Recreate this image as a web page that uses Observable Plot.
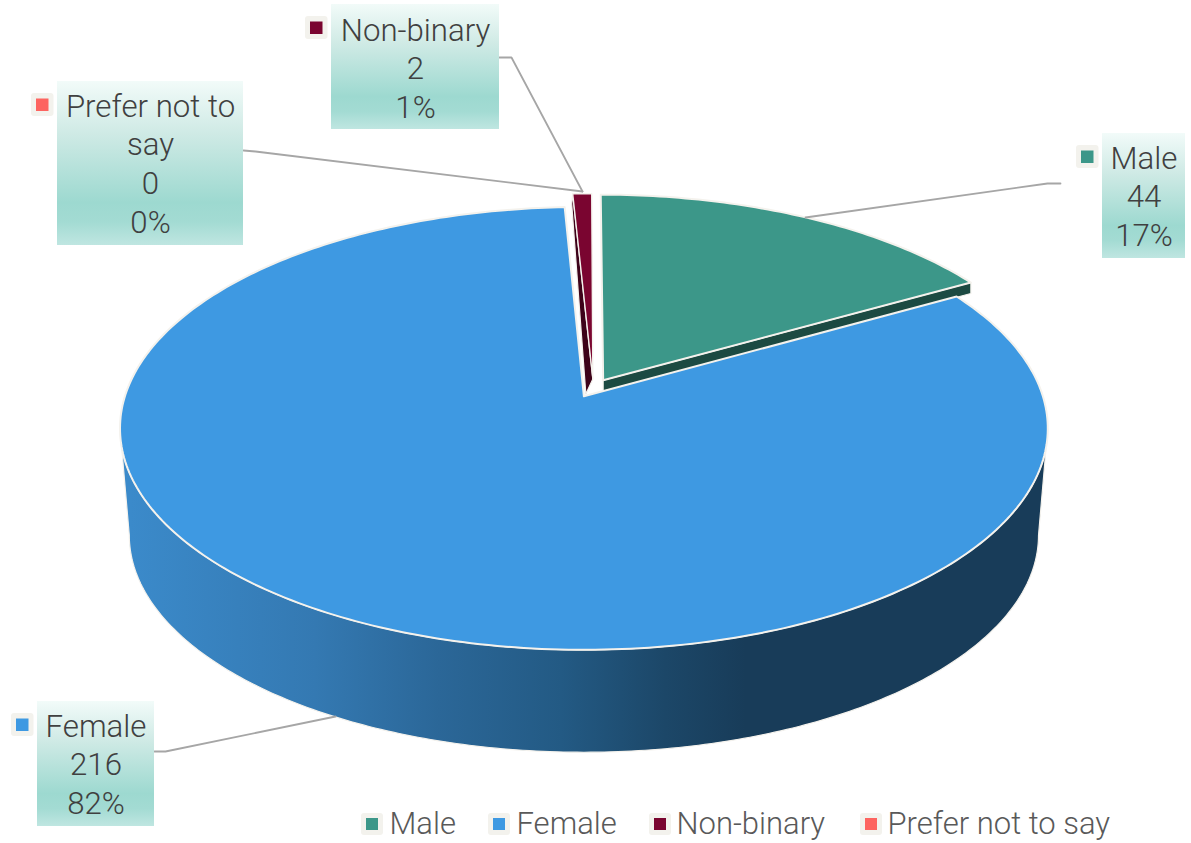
<!DOCTYPE html>
<html>
<head>
<meta charset="utf-8">
<script src="https://cdn.jsdelivr.net/npm/d3@7"></script>
<script src="https://cdn.jsdelivr.net/npm/@observablehq/plot@0.6"></script>
<style>
html,body{margin:0;padding:0;background:#fff}
svg{display:block}
</style>
</head>
<body>
<div id="chart"></div>
<script>
// --- data ---
const categories = ["Male", "Female", "Non-binary", "Prefer not to say"];
const counts = [44, 216, 2, 0];
const percents = ["17%", "82%", "1%", "0%"];
const wrappedNames = [["Male"], ["Female"], ["Non-binary"], ["Prefer not to", "say"]];

// --- styles ---
const colors = ["#3c9789", "#3e99e2", "#7a0530", "#fd6460"];
const wallColors = ["#1c4a42", "#1a3f5c", "#3d0219", "#7a2a28"];
const edge = "#f4f2ed";
const fontFamily = "Roboto, 'Open Sans', sans-serif";

// --- layout of annotation boxes (pixels of the frame) ---
const boxes = [
  {x1: 1102, x2: 1185, y1: 133, y2: 258, cx: 1143.5, base: 168, kx: 1076, ky: 145},
  {x1: 37,   x2: 154,  y1: 701, y2: 826, cx: 95.5,   base: 736, kx: 11,   ky: 713},
  {x1: 331,  x2: 499,  y1: 4,   y2: 129, cx: 415,    base: 40,  kx: 305,  ky: 16},
  {x1: 57,   x2: 243,  y1: 81,  y2: 245, cx: 150,    base: 116, kx: 31,   ky: 93}
];
const leaders = [
  [[1060, 183], [1047, 183], [805, 217]],
  [[154, 751], [165, 751], [335, 716]],
  [[499, 57], [511, 57], [582, 191]],
  [[243, 150], [255, 151], [582, 191]]
];
const legendKeyX = [361, 488, 649, 860];
const legendTextX = [389, 516, 676, 887];
const lineStep = 38.7;

// --- 3D pie projection ---
const arcs = d3.pie().sort(null).startAngle(0).endAngle(2 * Math.PI)(counts);
const mid = a => (a.startAngle + a.endAngle) / 2;
const K = 0.1448, BX = 459, BY = 216.8, OX = 583.4, OY = 395.8;
const EX = 0.043;
const mF = mid(arcs[1]);
const project = (u, v, s = 1, dy = 0) => {
  const d = 1 - K * v;
  return [OX + s * BX * u / d, OY + dy + s * BY * v / d];
};
// offset of a slice in the plane of the disc, relative to the anchor slice (Female)
const shift = a => [
  EX * (Math.sin(mid(a)) - Math.sin(mF)),
  -EX * (Math.cos(mid(a)) - Math.cos(mF))
];
const rimPoint = (t, sh, s, dy) => project(Math.sin(t) + sh[0], -Math.cos(t) + sh[1], s, dy);
const samples = (a0, a1, n) => d3.range(n + 1).map(i => a0 + (a1 - a0) * i / n);

const topFace = a => {
  const sh = shift(a);
  return [project(sh[0], sh[1]), ...samples(a.startAngle, a.endAngle, Math.max(4, Math.ceil((a.endAngle - a.startAngle) * 60))).map(t => rimPoint(t, sh))];
};
const wall = (a, angle, apexDrop, rimDrop) => {
  const sh = shift(a);
  const T = project(sh[0], sh[1]);
  const R = rimPoint(angle, sh);
  return [T, R, [R[0] + rimDrop[0], R[1] + rimDrop[1]], [T[0] + apexDrop[0], T[1] + apexDrop[1]]];
};

// outer side of the Female slice: front rim of top disc + front rim of the lower disc
const shF = shift(arcs[1]);
const frontA = Math.PI - Math.acos(K), frontB = Math.PI + Math.acos(K);
const sideTop = samples(frontA, frontB, 220).map(t => rimPoint(t, shF));
const sideBottom = samples(frontB, frontA, 220).map(t => rimPoint(t, shF, 0.98, 107.5));
const sidePoly = [...sideTop, ...sideBottom];

const toRows = pts => pts.map(([x, y]) => ({x, y}));
const poly = (pts, fill, strokeWidth = 1.6, stroke = edge) =>
  Plot.line(toRows(pts), {x: "x", y: "y", curve: "linear-closed", fill, stroke, strokeWidth, strokeLinejoin: "round"});

// --- gradients ---
const defs = () => {
  const d = d3.create("svg:defs");
  const side = d.append("linearGradient").attr("id", "sideGrad")
    .attr("gradientUnits", "userSpaceOnUse").attr("x1", 130).attr("x2", 745).attr("y1", 0).attr("y2", 0);
  [[0, "#3b8aca"], [0.3, "#3479b2"], [0.5, "#2b6798"], [0.7, "#235a84"], [0.87, "#1c4768"], [1, "#183c59"]]
    .forEach(([o, c]) => side.append("stop").attr("offset", o).attr("stop-color", c));
  const box = d.append("linearGradient").attr("id", "boxGrad").attr("x1", 0).attr("x2", 0).attr("y1", 0).attr("y2", 1);
  [[0, "#f2fbf9"], [0.32, "#cfeae5"], [0.74, "#9dd9d0"], [0.86, "#a3dbd3"], [1, "#bfe6e1"]]
    .forEach(([o, c]) => box.append("stop").attr("offset", o).attr("stop-color", c));
  return d.node();
};

// --- label rows ---
const labelRows = categories.flatMap((c, i) =>
  [...wrappedNames[i], String(counts[i]), percents[i]].map((text, j) => ({
    text, x: boxes[i].cx, y: boxes[i].base + j * lineStep
  })));
const keyRows = categories.map((c, i) => ({i, x: boxes[i].kx, y: boxes[i].ky}));
const legendRows = categories.map((c, i) => ({i, c, x: legendKeyX[i], tx: legendTextX[i], y: 813}));
const leaderRows = leaders.flatMap((pts, i) => pts.map(([x, y]) => ({i, x, y})));

const chart = Plot.plot({
  width: 1191, height: 843,
  marginTop: 0, marginRight: 0, marginBottom: 0, marginLeft: 0,
  style: {background: "#fff", fontFamily, overflow: "visible"},
  x: {type: "linear", domain: [0, 1191], range: [0, 1191], axis: null},
  y: {type: "linear", domain: [0, 843], range: [0, 843], axis: null},
  marks: [
    defs,
    poly(sidePoly, "url(#sideGrad)", 1.2),
    poly(wall(arcs[0], arcs[0].endAngle, [0, 11], [0, 11]), wallColors[0], 1.2),
    poly(wall(arcs[2], arcs[2].startAngle, [-7, 15], [-1, 10]), wallColors[2], 1.2),
    poly(topFace(arcs[1]), colors[1], 2),
    poly(topFace(arcs[0]), colors[0], 2),
    poly(topFace(arcs[2]), colors[2], 1.4),
    // leader lines
    Plot.line(leaderRows, {x: "x", y: "y", z: "i", stroke: "#a6a6a6", strokeWidth: 1.8}),
    // data-label boxes
    Plot.rect(boxes, {x1: "x1", x2: "x2", y1: "y1", y2: "y2", fill: "url(#boxGrad)", inset: 0}),
    // keys in data labels
    Plot.rect(keyRows, {x1: "x", x2: d => d.x + 22.5, y1: "y", y2: d => d.y + 23, fill: "#f3f2ed", rx: 3, inset: 0}),
    Plot.rect(keyRows, {x1: d => d.x + 5, x2: d => d.x + 17.5, y1: d => d.y + 5.5, y2: d => d.y + 18, fill: d => colors[d.i], inset: 0}),
    Plot.text(labelRows, {
      x: "x", y: "y", text: "text", textAnchor: "middle", lineAnchor: "bottom",
      fontSize: 31.2, fontWeight: 300, fill: "#404040", fontFamily
    }),
    // legend
    Plot.rect(legendRows, {x1: "x", x2: d => d.x + 22, y1: "y", y2: d => d.y + 22, fill: "#f3f2ed", rx: 3, inset: 0}),
    Plot.rect(legendRows, {x1: d => d.x + 5, x2: d => d.x + 17, y1: d => d.y + 5, y2: d => d.y + 17, fill: d => colors[d.i], inset: 0}),
    Plot.text(legendRows, {
      x: "tx", y: 833.5, text: "c", textAnchor: "start", lineAnchor: "bottom",
      fontSize: 31, fontWeight: 300, fill: "#595959", fontFamily
    })
  ]
});
document.getElementById("chart").append(chart);
</script>
</body>
</html>
